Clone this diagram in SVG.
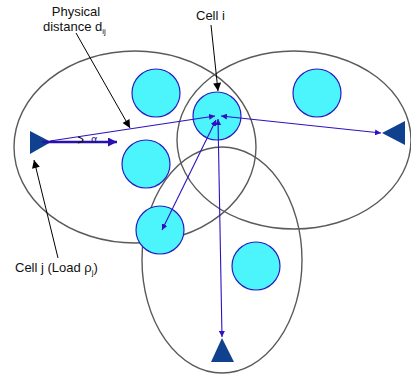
<svg xmlns="http://www.w3.org/2000/svg" width="411" height="377" viewBox="0 0 411 377">
<style>
.cov{fill:none;stroke:#5a5a5a;stroke-width:1.4}
.cell{fill:#4cf4fc;stroke:#2a1cc0;stroke-width:1.2}
.bs{fill:#10418f}
.link{fill:none;stroke:#3010c0;stroke-width:1.1}
.lead{fill:none;stroke:#000;stroke-width:1}
.lbl{font-family:"Liberation Sans",Arial,sans-serif;font-size:13px;fill:#111}
</style>
<defs>
<marker id="ab" viewBox="0 0 10 10" refX="10" refY="5" markerWidth="6" markerHeight="6" markerUnits="userSpaceOnUse" orient="auto-start-reverse"><path d="M0,0 L10,5 L0,10 z" fill="#3010c0"/></marker>
<marker id="abig" viewBox="0 0 10 10" refX="10" refY="5" markerWidth="12" markerHeight="9" markerUnits="userSpaceOnUse" orient="auto"><path d="M0,0 L10,5 L0,10 z" fill="#2a10b0"/></marker>
<marker id="ak" viewBox="0 0 10 10" refX="10" refY="5" markerWidth="9" markerHeight="8" markerUnits="userSpaceOnUse" orient="auto"><path d="M0,0 L10,5 L0,10 z" fill="#000"/></marker>
</defs>
<g id="coverage">
<ellipse id="cov-left" class="cov" cx="135" cy="147" rx="121" ry="96"/>
<ellipse id="cov-right" class="cov" cx="294" cy="140" rx="117" ry="89"/>
<ellipse id="cov-bottom" class="cov" cx="222" cy="260" rx="80" ry="113"/>
</g>
<g id="cells">
<circle id="cell-a" class="cell" cx="156" cy="93" r="24"/>
<circle id="cell-b" class="cell" cx="146" cy="164" r="24"/>
<circle id="cell-i" class="cell" cx="217" cy="116" r="24"/>
<circle id="cell-c" class="cell" cx="317" cy="93" r="24"/>
<circle id="cell-d" class="cell" cx="160" cy="230" r="24"/>
<circle id="cell-e" class="cell" cx="256" cy="266" r="24"/>
</g>
<g id="stations">
<polygon id="bs-j" class="bs" points="30,131 30,154 51,142"/>
<polygon id="bs-right" class="bs" points="382,133 405,121 405,145"/>
<polygon id="bs-bottom" class="bs" points="222,338 211,362 234,362"/>
</g>
<g id="connectors">
<path class="link" d="M50,141 L215,116" marker-end="url(#ab)"/>
<path class="link" d="M221,116 L381,133" marker-start="url(#ab)" marker-end="url(#ab)"/>
<path class="link" d="M218,119 L222,337" marker-start="url(#ab)" marker-end="url(#ab)"/>
<path class="link" d="M216,120 L162,230" marker-start="url(#ab)" marker-end="url(#ab)"/>
<path d="M42,142 L117,142" fill="none" stroke="#2a10b0" stroke-width="2.6" marker-end="url(#abig)"/>
<path d="M78,137 Q88,140 78,143" fill="none" stroke="#111" stroke-width="1.2"/>
<path class="lead" d="M76,33 L130,128" marker-end="url(#ak)"/>
<path class="lead" d="M211,25 L218,91" marker-end="url(#ak)"/>
<path class="lead" d="M58,258 L34,160" marker-end="url(#ak)"/>
</g>
<g id="labels">
<text class="lbl" x="76" y="16" text-anchor="middle">Physical</text>
<text class="lbl" x="43" y="31">distance d<tspan font-size="8" dy="3">ij</tspan></text>
<text class="lbl" x="196" y="20">Cell i</text>
<text class="lbl" x="15" y="272">Cell j (Load ρ<tspan font-size="8" dy="3">j</tspan><tspan dy="-3">)</tspan></text>
<text x="91" y="143" font-family="DejaVu Sans,sans-serif" font-size="10" fill="#1a1a80">α</text>
</g>
</svg>
